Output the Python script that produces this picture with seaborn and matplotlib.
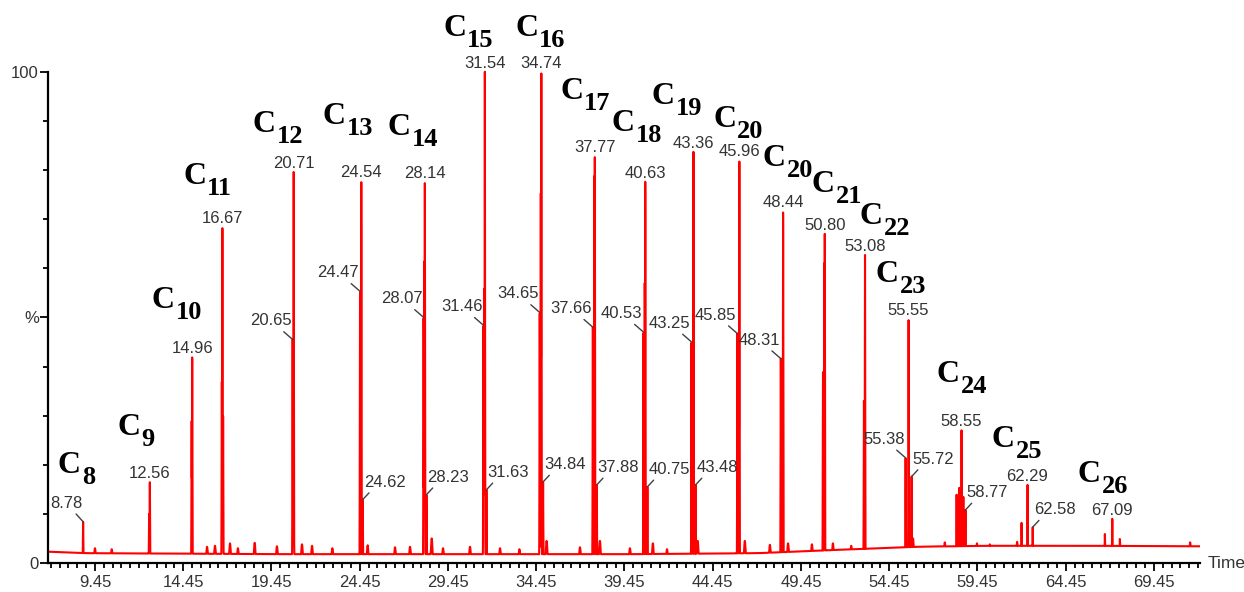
import matplotlib
matplotlib.use("Agg")
import matplotlib.pyplot as plt
import numpy as np
import seaborn as sns


# labelled peaks: retention time (min) and relative abundance (%)
peak_times = [8.78, 12.56, 14.96, 16.67, 20.65, 20.71, 24.47, 24.54, 24.62,
              28.07, 28.14, 28.23, 31.46, 31.54, 31.63, 34.65, 34.74, 34.84,
              37.66, 37.77, 37.88, 40.53, 40.63, 40.75, 43.25, 43.36, 43.48,
              45.85, 45.96, 48.31, 48.44, 50.80, 53.08, 55.38, 55.55, 55.72,
              58.55, 58.77, 62.29, 62.58, 67.09]
peak_heights = [8.4, 16.5, 42.0, 68.4, 45.5, 79.6, 55.3, 77.8, 12.9,
                50.0, 77.6, 13.9, 48.4, 100.0, 14.9, 51.0, 100.0, 16.5,
                48.0, 82.9, 15.9, 47.0, 77.6, 15.5, 45.0, 83.7, 15.9,
                46.7, 82.0, 41.6, 71.6, 67.0, 62.7, 21.4, 49.6, 17.6,
                27.1, 10.8, 15.9, 7.3, 9.0]
# where each number sits: above the apex, or on a leader to the left / right
label_side = ["left", "top", "top", "top", "left", "top", "left", "top", "right",
              "left", "top", "right", "left", "top", "right", "left", "top", "right",
              "left", "top", "right", "left", "top", "right", "left", "top", "right",
              "left", "top", "left", "top", "top", "top", "left", "top", "right",
              "top", "right", "top", "right", "top"]

# unlabelled shoulders and small peaks
extra_times = [12.52, 14.93, 16.64, 16.71, 28.11, 31.50, 34.71, 37.74, 40.60,
               45.93, 50.70, 50.77, 53.02, 58.27, 58.42, 58.65, 61.95, 66.67, 67.52]
extra_heights = [10.0, 29.0, 37.0, 30.0, 61.6, 56.0, 75.5, 79.0, 57.0,
                 38.5, 39.0, 61.0, 33.0, 13.9, 15.3, 13.5, 8.2, 5.9, 4.9]

# baseline bumps
bump_times = [9.45, 10.4, 15.8, 16.25, 17.1, 17.55, 18.5, 19.76, 21.18, 21.75,
              22.9, 24.9, 26.45, 27.3, 28.53, 29.17, 30.7, 32.4, 33.5, 35.04,
              36.93, 38.06, 39.76, 41.06, 41.86, 43.6, 46.27, 47.69, 48.72, 50.07,
              51.26, 52.3, 55.8, 57.6, 59.42, 60.15, 61.7, 71.5]
bump_heights = [3.0, 2.8, 3.3, 3.5, 4.0, 3.0, 4.1, 3.4, 3.8, 3.5,
                3.0, 3.6, 3.2, 3.3, 5.0, 3.0, 3.3, 3.0, 2.8, 4.5,
                3.2, 4.5, 3.0, 4.0, 2.8, 4.5, 4.5, 3.7, 4.0, 3.8,
                4.0, 3.5, 5.0, 4.2, 4.0, 3.8, 4.3, 4.2]

# baseline level read at a few times
base_times = [6.8, 9.0, 20.0, 40.0, 47.0, 51.0, 56.0, 60.0, 66.0, 72.1]
base_levels = [2.3, 2.0, 1.8, 1.8, 2.0, 2.6, 3.3, 3.5, 3.5, 3.4]

# carbon-number labels
carbon_names = ["8", "9", "10", "11", "12", "13", "14", "15", "16", "17", "18",
                "19", "20", "20", "21", "22", "23", "24", "25", "26"]
carbon_x = [7.35, 10.70, 12.68, 14.44, 18.40, 22.37, 26.05, 29.17, 33.25, 35.80,
            38.74, 41.01, 44.47, 47.30, 50.07, 52.79, 53.70, 57.15, 60.27, 65.14]
carbon_y = [18.4, 26.1, 52.0, 77.1, 87.8, 89.4, 87.1, 107.3, 107.3, 94.5,
            88.0, 93.5, 88.8, 80.8, 75.5, 69.0, 57.3, 36.9, 23.7, 16.5]

x_ticks = [9.45, 14.45, 19.45, 24.45, 29.45, 34.45, 39.45, 44.45, 49.45,
           54.45, 59.45, 64.45, 69.45]
y_ticks = [0, 50, 100]
y_tick_labels = ["0", "%", "100"]

NUM_FONT = ["Liberation Sans Narrow", "Liberation Sans", "DejaVu Sans"]
TEXT_COLOR = "#333333"


def build_trace():
    t = np.arange(6.79, 72.06, 0.003)
    sig = np.interp(t, base_times, base_levels)
    for tp, hp in zip(peak_times + extra_times, peak_heights + extra_heights):
        sig = np.maximum(sig, hp * np.exp(-0.5 * ((t - tp) / 0.012) ** 2))
    for tp, hp in zip(bump_times, bump_heights):
        sig = np.maximum(sig, hp * np.exp(-0.5 * ((t - tp) / 0.04) ** 2))
    return t, sig


def main():
    sns.set_style("ticks")
    plt.rcParams["font.family"] = NUM_FONT

    fig = plt.figure(figsize=(12.44, 5.92), dpi=100)
    ax = fig.add_axes([48 / 1244, 29 / 592, 1152 / 1244, 560 / 592])

    t, sig = build_trace()
    sns.lineplot(x=t, y=sig, ax=ax, color="#ff0000", linewidth=1.5,
                 estimator=None, sort=False, legend=False)

    ax.set_xlim(6.79, 72.06)
    ax.set_ylim(0, 114)
    ax.set_xticks(x_ticks, labels=[f"{v:.2f}" for v in x_ticks])
    ax.set_xticks(np.arange(6.95, 72.0, 0.5), minor=True)
    ax.set_yticks(y_ticks, labels=y_tick_labels)
    ax.set_yticks(np.arange(0, 101, 10), minor=True)
    ax.tick_params(which="both", direction="out", colors="black",
                   labelcolor=TEXT_COLOR, labelsize=12, width=1.3)
    ax.tick_params(which="major", length=5.5)
    ax.tick_params(which="minor", length=3.5)
    ax.tick_params(axis="x", pad=3)
    ax.tick_params(axis="y", pad=1)
    ax.set_xlabel("")
    ax.set_ylabel("")

    for side in ["top", "right"]:
        ax.spines[side].set_visible(False)
    for side in ["left", "bottom"]:
        ax.spines[side].set_linewidth(1.6)
        ax.spines[side].set_color("black")
    ax.spines["left"].set_bounds(0, 100)

    ax.text(1.007, 0, "Time", transform=ax.transAxes, ha="left", va="center",
            fontsize=12.5, color=TEXT_COLOR, clip_on=False)

    # retention-time labels
    for tp, hp, side in zip(peak_times, peak_heights, label_side):
        label = f"{tp:.2f}"
        if side == "top":
            ax.annotate(label, xy=(tp, hp), xytext=(0, 4), textcoords="offset pixels",
                        ha="center", va="baseline", fontsize=12, color=TEXT_COLOR)
        elif side == "left":
            ax.annotate(label, xy=(tp, hp), xytext=(-1, 14), textcoords="offset pixels",
                        ha="right", va="baseline", fontsize=12, color=TEXT_COLOR,
                        arrowprops=dict(arrowstyle="-", color="#404040", lw=1.0,
                                        shrinkA=0, shrinkB=0, relpos=(0.72, 0)))
        else:
            ax.annotate(label, xy=(tp, hp), xytext=(1, 13), textcoords="offset pixels",
                        ha="left", va="baseline", fontsize=12, color=TEXT_COLOR,
                        arrowprops=dict(arrowstyle="-", color="#404040", lw=1.0,
                                        shrinkA=0, shrinkB=0, relpos=(0.2, 0)))

    # carbon-number labels, C with a big subscript
    serif = dict(family=["Liberation Serif", "DejaVu Serif"], weight="bold",
                 color="black")
    for name, cx, cy in zip(carbon_names, carbon_x, carbon_y):
        c_txt = ax.text(cx, cy, "C", ha="left", va="baseline", fontsize=23,
                        clip_on=False, **serif)
        ax.annotate(name, xy=(1, 0), xycoords=c_txt, xytext=(1, -4),
                    textcoords="offset pixels", ha="left", va="baseline",
                    fontsize=19, annotation_clip=False, **serif)

    fig.savefig("out.png", dpi=100)


if __name__ == "__main__":
    main()
